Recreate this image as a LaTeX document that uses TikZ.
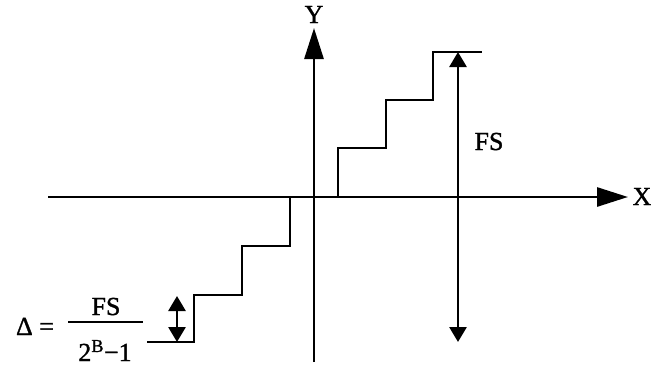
\documentclass[tikz,border=0pt]{standalone}
\usepackage{fontspec}
\setmainfont{Liberation Serif}[BoldFont={Liberation Serif},BoldFeatures={FakeBold=1.2}]
\usetikzlibrary{arrows.meta}
\begin{document}
\begin{tikzpicture}[x=1pt,y=-1pt,
  ln/.style={line width=2.8pt},
  bigtip/.style={-{Triangle[length=31pt,width=19pt]}},
  dbl/.style={{Triangle[length=15pt,width=17pt]}-{Triangle[length=15pt,width=17pt]}},
  lbl/.style={font=\fontsize{26}{30}\selectfont\bfseries, inner sep=0pt, anchor=base}]
\useasboundingbox (0,0) rectangle (651,365);
% axes
\coordinate (xl) at (48,197);
\coordinate (xr) at (628,197);
\coordinate (yb) at (314,362);
\coordinate (yt) at (314,28);
\draw[ln,bigtip] (xl) -- (xr);
\draw[ln,bigtip] (yb) -- (yt);
\node[lbl] (xlab) at (642,205) {X};
\node[lbl] (ylab) at (314,23) {Y};
% upper staircase
\coordinate (u0) at (338,197);
\draw[ln] (u0) |- (386,148) |- (433,100) |- (482,52);
% lower staircase
\coordinate (l0) at (290,197);
\draw[ln] (l0) |- (242,246) |- (194,295) |- (147,342);
% FS arrow
\coordinate (fst) at (458,52);
\coordinate (fsb) at (458,342);
\draw[ln,dbl] (fst) -- (fsb);
\node[lbl] (fs) at (489,150) {FS};
% Delta arrow
\coordinate (dt) at (177,296);
\coordinate (db) at (177,342);
\draw[ln,dbl] (dt) -- (db);
% Delta formula
\node[lbl] (delta) at (35,335) {Δ =};
\node[lbl] (num) at (106,315) {FS};
\node[lbl] (den) at (105,361) {2\textsuperscript{B}−1};
\draw[line width=2.4pt] (68,322) -- (143,322);
\end{tikzpicture}
\end{document}
